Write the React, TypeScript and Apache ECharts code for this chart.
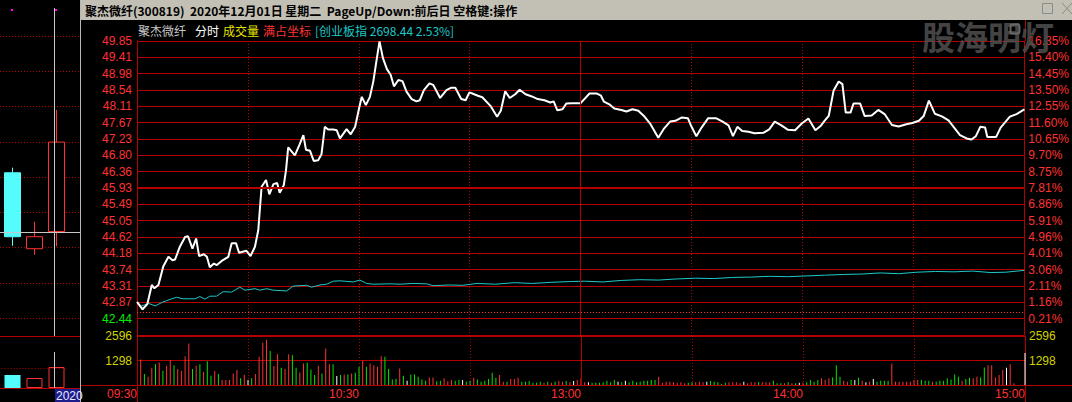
import React, { useEffect, useRef } from "react";
import * as echarts from "echarts";

// ---- price axis tick labels (top -> bottom) ----
const priceLabels = ["49.85","49.41","48.98","48.54","48.11","47.67","47.23","46.80","46.36","45.93","45.49","45.05","44.62","44.18","43.74","43.31","42.87","42.44"];
const pctLabels = ["16.35%","15.40%","14.45%","13.50%","12.55%","11.60%","10.65%","9.70%","8.75%","7.81%","6.86%","5.91%","4.96%","4.01%","3.06%","2.11%","1.16%","0.21%"];
const PMAX = 49.85;
const PSTEP = 0.43588;
const PMIN = 42.00416;
const prevClose = 42.60;
const timeLabels = ["09:30", "", "10:30", "", "13:00", "", "14:00", "", "15:00"];
const volLabels = ["", "1298", "2596"];

// ---- intraday price [minute, price] ----
const priceData = [
[0,42.89],[1.5,42.69],[2.8,42.83],[4,43.34],[4.7,43.25],[5.8,43.34],[7.1,43.83],[8.5,44.09],[9.6,44.00],[10.3,44.02],[11.6,44.36],[13,44.62],[13.8,44.64],[15,44.31],[16,44.58],[16.8,44.11],[18.1,44.16],[18.9,44.09],[19.7,43.81],[20.8,43.91],[21.6,43.87],[22.9,43.98],[24.7,44.09],[25.6,44.45],[26.8,44.45],[27.6,44.20],[29.6,44.25],[30.7,44.11],[31.9,44.36],[32.8,44.80],[33.7,45.96],[34.9,46.14],[35.8,45.76],[36.9,46.03],[37.9,46.06],[38.6,45.80],[39.7,46.00],[40.3,46.40],[40.9,47.01],[42.7,46.80],[43.9,47.07],[45,47.34],[45.7,46.95],[46.8,46.92],[47.8,46.65],[49,46.67],[49.9,46.83],[50.8,47.56],[51.7,47.49],[53.1,47.49],[54,47.47],[54.9,47.25],[56.7,47.50],[57.8,47.36],[59,47.56],[60.1,48.07],[60.8,48.36],[61.9,48.14],[63,48.36],[63.9,48.76],[64.8,49.34],[65.6,49.84],[66.5,49.40],[67.6,49.10],[68.6,48.95],[69.5,48.64],[70.7,48.81],[71.8,48.78],[72.9,48.50],[74.3,48.30],[75.6,48.24],[76.5,48.27],[77.6,48.54],[79.1,48.72],[80.1,48.68],[82,48.33],[83.7,48.54],[84.9,48.60],[86.1,48.60],[87.7,48.30],[88.9,48.27],[89.9,48.48],[90.7,48.45],[92.2,48.39],[93.4,48.35],[95.6,48.12],[97.4,47.83],[98.4,47.99],[99.6,48.51],[100.8,48.33],[102.3,48.43],[103.5,48.55],[105.1,48.43],[106.8,48.37],[108.4,48.30],[110.2,48.27],[111.8,48.21],[112.7,48.24],[113.7,48.00],[115.1,48.03],[116.1,48.18],[117.6,48.19],[120,48.19],[121,48.30],[122.4,48.45],[124.3,48.45],[125.5,48.39],[126.3,48.23],[127.9,48.15],[129.1,48.05],[131,48.01],[132.4,47.97],[134,48.03],[135.6,47.99],[137.1,47.85],[138.9,47.63],[141,47.27],[142.6,47.52],[144.2,47.70],[145.6,47.72],[147.4,47.81],[149,47.79],[149.9,47.58],[151.3,47.31],[152.7,47.54],[154.5,47.79],[156.6,47.79],[158.4,47.70],[160,47.60],[161.2,47.31],[162.4,47.56],[163.7,47.45],[165.4,47.43],[167,47.39],[169.4,47.40],[171,47.49],[172.5,47.70],[174.3,47.60],[176.1,47.48],[178,47.47],[179.8,47.65],[181.6,47.78],[183.5,47.47],[184.9,47.58],[185.9,47.71],[187.1,47.85],[188.4,48.52],[189.8,48.77],[190.8,48.70],[191.7,47.94],[193,47.94],[193.8,48.18],[195.6,48.18],[196.8,47.85],[198.7,47.86],[200.5,48.01],[202.3,47.89],[204.2,47.61],[206,47.57],[208.1,47.63],[209.7,47.66],[211.5,47.72],[212.8,47.85],[214.2,48.26],[215.8,47.91],[217.7,47.84],[219.5,47.73],[222.6,47.34],[224.4,47.25],[225.7,47.22],[226.9,47.31],[228.1,47.56],[229.4,47.54],[230,47.29],[232.4,47.29],[233.6,47.54],[236.1,47.83],[237.9,47.90],[239.8,48.01],[240,48.03]
];

// ---- index overlay line (cyan) [minute, price-scale value] ----
const indexData = [
[0.8,42.76],[3.1,42.85],[4.9,42.78],[6.7,42.87],[8,42.92],[9.4,42.97],[10.7,43.01],[12.5,42.97],[15.7,42.97],[17,43.03],[18.4,42.96],[19.7,43.04],[21.5,43.04],[23.3,43.16],[25.6,43.15],[27.8,43.28],[29.2,43.20],[31.9,43.24],[33.2,43.20],[35.1,43.24],[36.8,43.20],[40.5,43.18],[42.2,43.31],[45.9,43.33],[47.2,43.28],[49.5,43.34],[51.3,43.36],[53.1,43.44],[54.9,43.45],[58.5,43.42],[60.3,43.47],[62.1,43.38],[63.9,43.36],[68.4,43.37],[71.1,43.36],[74.7,43.38],[78.3,43.37],[80.1,43.32],[84.6,43.34],[88,43.33],[92,43.38],[97,43.36],[102,43.40],[107,43.38],[112,43.41],[117,43.43],[121,43.44],[126,43.42],[131,43.46],[136,43.48],[141,43.47],[146,43.50],[151,43.52],[156,43.51],[161,43.54],[166,43.55],[171,43.57],[176,43.56],[181,43.58],[186,43.60],[191,43.62],[196,43.63],[201,43.66],[206,43.64],[211,43.68],[216,43.70],[221,43.69],[226,43.71],[231,43.67],[235,43.68],[240,43.73]
];

// ---- per-minute volume (minutes 1..240) ----
const volValues = [
1351,579,439,912,1105,1193,754,1017,1316,1052,
842,754,1526,2193,842,1017,1105,702,1263,491,
737,579,263,263,263,614,789,351,544,263,
351,579,1491,2245,2403,1807,1000,1631,912,842,
1631,1579,912,667,1140,1175,824,526,1017,614,
1929,1105,1105,474,526,561,561,614,649,965,
1280,965,1140,1052,965,1526,1491,842,298,333,
877,491,228,561,561,439,298,228,403,403,
193,228,351,193,263,228,263,263,175,228,
386,298,
175,228,316,649,386,526,175,175,316,316,
386,175,175,210,123,123,175,123,175,123,
175,210,175,210,140,210,263,351,140,140,
123,123,123,140,228,140,263,175,140,228,
140,228,140,175,228,228,263,263,439,123,
175,175,140,123,140,88,123,140,140,175,
140,175,210,175,140,53,123,140,140,140,
88,175,88,140,140,140,140,140,140,228,
88,88,88,140,88,88,123,123,140,263,
175,263,351,263,351,403,1052,439,228,175,
263,263,386,228,140,175,316,175,228,228,
228,1140,175,175,175,175,175,263,263,263,
228,228,175,175,228,228,351,298,561,439,
228,316,386,351,439,403,930,1052,1052,403,
526,789,912,1105,88,
0,0,1701
];
const volDir = (
"rgrrgrgrrg" + "rrrrgrgrgg" + "rgrrrrrgrw" + "grrrrgrrgr" + "rggrrgggrg" +
"rrgwgrgrgg" + "rgrrrrgggg" + "rgwgggggrr" + "ggrrrggwgg" + "rg" +
"gggggrrgrr" + "rggggggrgr" + "grrgrwrrrw" + "gggggggwgw" + "ggggggggrr" +
"rrrrrrggrr" + "rwgggggrrr" + "rwrrrgrrrg" + "ggrgrgwrgg" + "ggrrrgggrr" +
"gwgrwrwggg" + "grrrrrrrrg" + "ggrggggggg" + "rggrrggrrr" + "rrwrr" + "ggw"
).split("");

// ---- left mini daily K-line ----
const dayCats = ["11-27", "11-30", "12-01"];
const dayOHLC = [
  [46.24, 42.61, 42.10, 46.53],
  [41.93, 42.61, 41.59, 43.46],
  [42.91, 47.98, 42.06, 49.81],
];
const dayVol = [32.5, 25, 52.5];

const RED = "#ff3232";
const GRID_RED = "#b40000";
const CYAN = "#54fcfc";
const GREEN = "#00e600";
const YELLOW = "#d2d200";
const NUM_FONT = "Liberation Sans";
const CJK = "Noto Sans CJK SC";
const DOT = [1, 2];

function line(x1: number, y1: number, x2: number, y2: number, stroke: string, extra: any = {}) {
  return { type: "line", shape: { x1, y1, x2, y2 }, style: { stroke, lineWidth: 1, ...(extra.style || {}) }, z: extra.z ?? 50, silent: true };
}
function txt(x: number, y: number, text: string, fill: string, font: string, z = 60) {
  return {
    type: "text", x, y, z, silent: true,
    style: { text, fill, font, textAlign: "left", textVerticalAlign: "middle", align: "left", verticalAlign: "middle" },
  };
}

export default function App() {
  const ref = useRef<HTMLDivElement>(null);
  useEffect(() => {
    if (!ref.current) return;
    const chart = echarts.init(ref.current, null, { renderer: "svg" });
    const dirColor = (d: string) => (d === "r" ? RED : d === "g" ? GREEN : "#ffffff");
    const volData = volValues.map((v, i) => ({ value: [i + 1, v], itemStyle: { color: dirColor(volDir[i]) } }));

    const option: any = {
      animation: false,
      backgroundColor: "#000",
      grid: [
        { left: 137, top: 41, width: 888, height: 294 },
        { left: 137, top: 336, width: 888, height: 49 },
        { left: 1.5, top: 36, width: 66, height: 282 },
        { left: 1.5, top: 348, width: 66, height: 40 },
        { left: 0, top: 36, width: 80, height: 282 },
      ],
      xAxis: [
        { gridIndex: 0, type: "value", min: 0, max: 240, interval: 30, axisLine: { show: false }, axisTick: { show: false }, axisLabel: { show: false },
          splitLine: { show: true, lineStyle: { color: GRID_RED, type: DOT } } },
        { gridIndex: 1, type: "value", min: 0, max: 240, interval: 30, axisLine: { show: true, lineStyle: { color: GRID_RED } }, axisTick: { show: false },
          axisLabel: { show: true, color: RED, fontSize: 12, fontFamily: NUM_FONT, align: "right", margin: 3, showMinLabel: true, showMaxLabel: true,
            formatter: (v: number) => timeLabels[Math.round(v / 30)] ?? "" },
          splitLine: { show: true, lineStyle: { color: GRID_RED, type: DOT } } },
        { gridIndex: 2, type: "category", data: dayCats, show: false },
        { gridIndex: 3, type: "category", data: dayCats, show: false },
        { gridIndex: 4, type: "value", min: 0, max: 1, show: false },
      ],
      yAxis: [
        { gridIndex: 0, type: "value", min: PMIN, max: PMAX, interval: PSTEP, position: "left",
          axisLine: { show: true, lineStyle: { color: GRID_RED } }, axisTick: { show: false },
          axisLabel: { margin: 5, fontSize: 12, fontFamily: NUM_FONT, color: RED,
            formatter: (v: number) => { const i = Math.round((v - PMIN) / PSTEP); if (i <= 0) return ""; const s = priceLabels[18 - i]; return i === 1 ? `{g|${s}}` : `{r|${s}}`; },
            rich: { r: { color: RED, fontSize: 12, fontFamily: NUM_FONT }, g: { color: "#00f000", fontSize: 12, fontFamily: NUM_FONT } } },
          splitLine: { show: true, lineStyle: { color: GRID_RED } } },
        { gridIndex: 0, type: "value", min: PMIN, max: PMAX, interval: PSTEP, position: "right",
          axisLine: { show: true, lineStyle: { color: GRID_RED } }, axisTick: { show: false },
          axisLabel: { margin: 4, fontSize: 12, fontFamily: NUM_FONT, color: RED,
            formatter: (v: number) => { const i = Math.round((v - PMIN) / PSTEP); return i <= 0 ? "" : pctLabels[18 - i]; } },
          splitLine: { show: false } },
        { gridIndex: 1, type: "value", min: 0, max: 2596, interval: 1298, position: "left",
          axisLine: { show: true, lineStyle: { color: GRID_RED } }, axisTick: { show: false },
          axisLabel: { margin: 5, fontSize: 12, fontFamily: NUM_FONT, color: YELLOW, formatter: (v: number) => volLabels[Math.round(v / 1298)] ?? "" },
          splitLine: { show: true, lineStyle: { color: GRID_RED } } },
        { gridIndex: 1, type: "value", min: 0, max: 2596, interval: 1298, position: "right",
          axisLine: { show: true, lineStyle: { color: GRID_RED } }, axisTick: { show: false },
          axisLabel: { margin: 4, fontSize: 12, fontFamily: NUM_FONT, color: YELLOW, formatter: (v: number) => volLabels[Math.round(v / 1298)] ?? "" },
          splitLine: { show: false } },
        { gridIndex: 2, type: "value", min: 38, max: 54, show: false },
        { gridIndex: 3, type: "value", min: 0, max: 100, show: false },
        { gridIndex: 4, type: "value", min: 38, max: 54, interval: 2, axisLine: { show: false }, axisTick: { show: false }, axisLabel: { show: false },
          splitLine: { show: true, lineStyle: { color: GRID_RED, type: DOT } } },
      ],
      series: [
        { type: "line", xAxisIndex: 0, yAxisIndex: 0, data: indexData, symbol: "none", lineStyle: { color: "#1ec8c8", width: 1 }, z: 3 },
        { type: "line", xAxisIndex: 0, yAxisIndex: 0, data: priceData, symbol: "none", lineStyle: { color: "#ffffff", width: 2 }, z: 4,
          markLine: { silent: true, symbol: ["none", "none"], label: { show: false },
            data: [
              { yAxis: prevClose, lineStyle: { color: RED, type: DOT, width: 1 } },
              { yAxis: PMIN + 9 * PSTEP, lineStyle: { color: GRID_RED, type: "solid", width: 2 } },
              { xAxis: 120, lineStyle: { color: GRID_RED, type: "solid", width: 1 } },
            ] } },
        { type: "bar", xAxisIndex: 1, yAxisIndex: 2, data: volData, barWidth: 1, z: 3,
          markLine: { silent: true, symbol: ["none", "none"], label: { show: false },
            data: [{ xAxis: 120, lineStyle: { color: GRID_RED, type: "solid", width: 1 } }] } },
        { type: "candlestick", xAxisIndex: 2, yAxisIndex: 4, data: dayOHLC, barWidth: 16,
          itemStyle: { color: "#000", color0: CYAN, borderColor: RED, borderColor0: CYAN, borderWidth: 1 } },
        { type: "bar", xAxisIndex: 3, yAxisIndex: 5, barWidth: 16,
          data: dayVol.map((v, i) => ({ value: v, itemStyle: i === 0 ? { color: CYAN } : { color: "#000", borderColor: RED, borderWidth: 1 } })),
          markLine: { silent: true, symbol: ["none", "none"], label: { show: false },
            data: [{ yAxis: 50, lineStyle: { color: GRID_RED, type: DOT, width: 1 } }] } },
        { type: "line", xAxisIndex: 4, yAxisIndex: 6, data: [], symbol: "none" },
      ],
      graphic: [
        // title bar
        { type: "rect", shape: { x: 81, y: 0, width: 991, height: 20 }, style: { fill: "#c2bfb4" }, z: 90, silent: true },
        txt(85, 10.5, "聚杰微纤(300819)  2020年12月01日 星期二  PageUp/Down:前后日 空格键:操作", "#000", `bold 12px "${CJK}"`, 91),
        { type: "rect", shape: { x: 1042.5, y: 3.5, width: 10, height: 10 }, style: { fill: "none", stroke: "#8a8a8a", lineWidth: 1 }, z: 91, silent: true },
        line(1062, 3, 1072, 14, "#8a8a8a", { z: 91 }),
        line(1072, 3, 1062, 14, "#8a8a8a", { z: 91 }),
        // watermark
        { type: "text", x: 922, y: 36, z: 95, silent: true,
          style: { text: "股海明灯", fill: "rgba(80,80,80,0.85)", font: `bold 33px "${CJK}"`, textAlign: "left", textVerticalAlign: "middle", align: "left", verticalAlign: "middle" } },
        { type: "rect", shape: { x: 1010.5, y: 24.5, width: 9, height: 9, r: 2 }, style: { fill: "none", stroke: "rgba(110,110,110,0.9)", lineWidth: 2 }, z: 96, silent: true },
        // header row
        txt(138, 30, "聚杰微纤", "#c8c8c8", `12px "${CJK}"`),
        txt(195, 30, "分时", "#ffffff", `12px "${CJK}"`),
        txt(223, 30, "成交量", "#e6e600", `12px "${CJK}"`),
        txt(263, 30, "满占坐标", RED, `12px "${CJK}"`),
        txt(315, 30, "[创业板指 2698.44 2.53%]", "#1ec8c8", `12px "${CJK}"`),
        // frame extensions
        line(137.5, 385, 137.5, 402, GRID_RED),
        line(1025.5, 20, 1025.5, 41, GRID_RED),
        line(1025.5, 385, 1025.5, 402, GRID_RED),
        line(80, 385.5, 1072, 385.5, GRID_RED),
        // left panel
        line(80.5, 0, 80.5, 402, "#b8b8b8", { z: 70 }),
        line(0, 336.5, 80, 336.5, GRID_RED),
        line(0, 388.5, 80, 388.5, GRID_RED),
        line(54.5, 8, 54.5, 336, "#c8c8c8", { z: 70 }),
        line(54.5, 352, 54.5, 388, "#c8c8c8", { z: 70 }),
        line(0, 232.5, 80, 232.5, "#c8c8c8", { z: 70 }),
        { type: "rect", shape: { x: 11, y: 9, width: 2, height: 2 }, style: { fill: "#ff00ff" }, z: 70, silent: true },
        { type: "rect", shape: { x: 55, y: 9, width: 2, height: 2 }, style: { fill: "#ff00ff" }, z: 70, silent: true },
        { type: "rect", shape: { x: 55, y: 389, width: 25, height: 13 }, style: { fill: "#1c1c8c" }, z: 70, silent: true },
        txt(56, 396, "2020", "#e8e8ff", `12px "${NUM_FONT}"`, 71),
      ],
    };
    chart.setOption(option);
    return () => chart.dispose();
  }, []);
  return <div ref={ref} style={{ position: "fixed", left: 0, top: 0, width: 1072, height: 402, background: "#000" }} />;
}
